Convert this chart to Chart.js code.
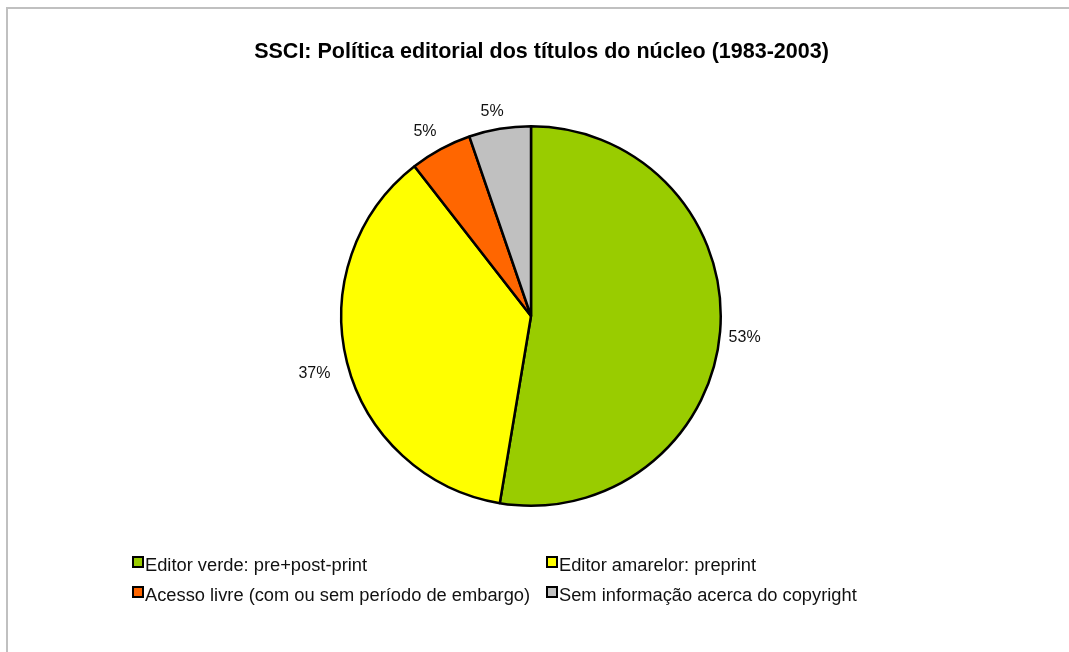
<!DOCTYPE html>
<html>
<head>
<meta charset="utf-8">
<script src="https://cdn.jsdelivr.net/npm/chart.js@4/dist/chart.umd.min.js"></script>
<style>
  body { margin: 0; background: #fff; font-family: "Liberation Sans", Arial, sans-serif; }
  #wrap { position: relative; width: 1069px; height: 652px; overflow: hidden; }
  #frame { position: absolute; left: 6px; top: 7px; width: 1100px; height: 700px;
           border-top: 2px solid #c0c0c0; border-left: 2px solid #c0c0c0; }
  #myChart { position: absolute; left: 0; top: 0; }
  #titulo { position: absolute; left: 0; width: 1083px; top: 38px; text-align: center;
            font-weight: bold; font-size: 21.5px; line-height: 26px; color: #000; }
  #legenda { position: absolute; left: 132px; top: 555px; display: grid;
             grid-template-columns: 414px 330px; row-gap: 10px; font-size: 18.3px; color: #111; }
  #legenda div { display: flex; align-items: center; white-space: nowrap; line-height: 20px; }
  #legenda span.box { width: 8px; height: 8px; border: 2px solid #000; margin-right: 1px;
                      box-sizing: content-box; margin-top: -6px; }
</style>
</head>
<body>
<div id="wrap">
  <div id="frame"></div>
  <canvas id="myChart" width="1069" height="652"></canvas>
  <div id="titulo"></div>
  <div id="legenda"></div>
</div>
<script>
let titulo = 'SSCI: Política editorial dos títulos do núcleo (1983-2003)';
let categorias = ['Editor verde: pre+post-print', 'Editor amarelor: preprint', 'Acesso livre (com ou sem período de embargo)', 'Sem informação acerca do copyright'];
let titulos = [10, 7, 1, 1];
let cores = ['#99cc00', '#ffff00', '#ff6600', '#c0c0c0'];

// rótulos de percentagem fora da tarte
const rotulos = {
    id: 'rotulos',
    afterDatasetsDraw(chart) {
        const ctx = chart.ctx;
        const meta = chart.getDatasetMeta(0);
        const total = titulos.reduce((a, b) => a + b, 0);
        ctx.save();
        ctx.font = '16px "Liberation Sans", Arial, sans-serif';
        ctx.fillStyle = '#111';
        ctx.textAlign = 'center';
        ctx.textBaseline = 'middle';
        meta.data.forEach((arc, i) => {
            const p = arc.getProps(['x', 'y', 'startAngle', 'endAngle', 'outerRadius'], true);
            const ang = (p.startAngle + p.endAngle) / 2;
            const dx = Math.cos(ang), dy = Math.sin(ang);
            const texto = Math.round(titulos[i] / total * 100) + '%';
            const w = ctx.measureText(texto).width;
            const h = 16;
            const r = p.outerRadius + 12 + Math.abs(dx) * w / 2 + Math.abs(dy) * h / 2;
            ctx.fillText(texto, p.x + dx * r - 4, p.y + dy * r + 4);
        });
        ctx.restore();
    }
};

const ctx = document.getElementById('myChart').getContext('2d');
const chart = new Chart(ctx, {
    type: 'pie',
    data: {
        labels: categorias,
        datasets: [{
            data: titulos,
            backgroundColor: cores,
            borderColor: '#000',
            borderWidth: 2.5
        }]
    },
    options: {
        responsive: false,
        animation: false,
        layout: { padding: { top: 125, bottom: 145, left: 0, right: 7 } },
        plugins: {
            legend: { display: false },
            tooltip: { enabled: false },
            title: { display: false }
        }
    },
    plugins: [rotulos]
});

document.getElementById('titulo').textContent = titulo;

// legenda em duas colunas
const leg = document.getElementById('legenda');
categorias.forEach((c, i) => {
    const d = document.createElement('div');
    d.innerHTML = '<span class="box" style="background:' + cores[i] + '"></span>' + c;
    leg.appendChild(d);
});
</script>
</body>
</html>
